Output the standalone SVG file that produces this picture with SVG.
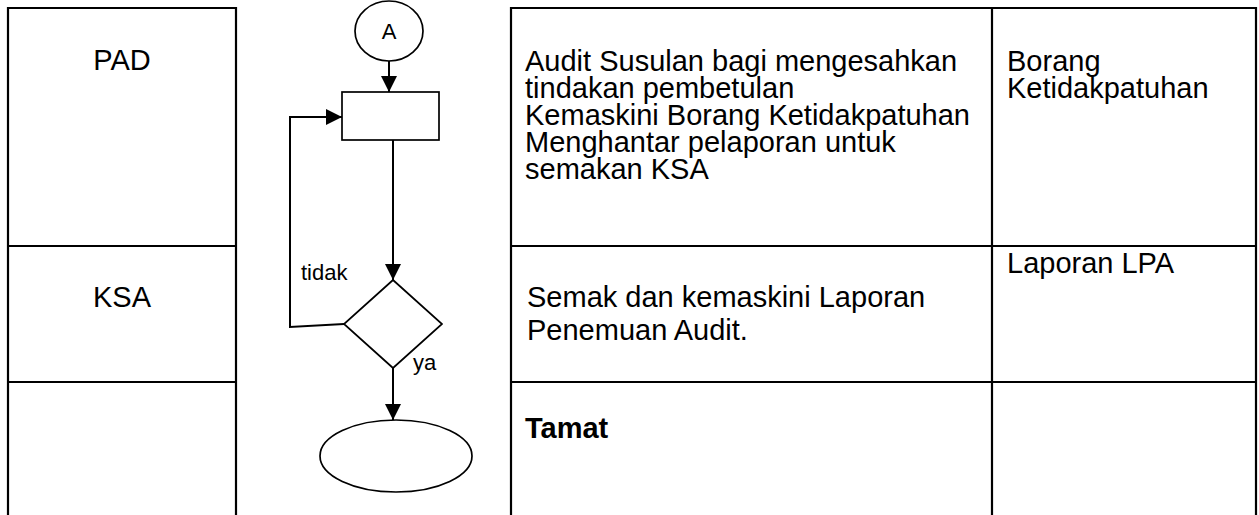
<svg xmlns="http://www.w3.org/2000/svg" width="1259" height="515" viewBox="0 0 1259 515">
<style>
.t{font-family:"Liberation Sans",Arial,sans-serif;font-size:29px;fill:#000}
.s{font-family:"Liberation Sans",Arial,sans-serif;font-size:22px;fill:#000}
.b{font-weight:bold}
.grid{stroke:#000;stroke-width:2.2;fill:none}
.shape{stroke:#000;stroke-width:1.7;fill:#fff}
.conn{stroke:#000;stroke-width:2;fill:none}
</style>
<defs>
<marker id="ah" viewBox="0 0 10 10" refX="10" refY="5" markerWidth="8" markerHeight="8" markerUnits="strokeWidth" orient="auto">
<path d="M0,0 L10,5 L0,10 z" fill="#000"/>
</marker>
</defs>
<rect width="1259" height="515" fill="#fff"/>
<g id="table-left">
<path class="grid" d="M8,515 V8 H236 V515 M8,246 H236 M8,382 H236"/>
<text class="t" x="122" y="70" text-anchor="middle">PAD</text>
<text class="t" x="122" y="307" text-anchor="middle">KSA</text>
</g>
<g id="table-right">
<path class="grid" d="M511,515 V8 H1256 V515 M992,8 V515 M511,246 H1256 M511,382 H1256"/>
<text class="t" x="525" y="71">Audit Susulan bagi mengesahkan</text>
<text class="t" x="525" y="98">tindakan pembetulan</text>
<text class="t" x="525" y="125">Kemaskini Borang Ketidakpatuhan</text>
<text class="t" x="525" y="152">Menghantar pelaporan untuk</text>
<text class="t" x="525" y="179">semakan KSA</text>
<text class="t" x="1007" y="71">Borang</text>
<text class="t" x="1007" y="98">Ketidakpatuhan</text>
<text class="t" x="1007" y="273">Laporan LPA</text>
<text class="t" x="527" y="307">Semak dan kemaskini Laporan</text>
<text class="t" x="527" y="340">Penemuan Audit.</text>
<text class="t b" x="525" y="438">Tamat</text>
</g>
<g id="connectors">
<line class="conn" x1="389" y1="61" x2="389" y2="92" marker-end="url(#ah)"/>
<line class="conn" x1="393" y1="140" x2="393" y2="280" marker-end="url(#ah)"/>
<polyline class="conn" points="344,324 290,327 290,117 342,117" marker-end="url(#ah)"/>
<line class="conn" x1="393" y1="368" x2="393" y2="420" marker-end="url(#ah)"/>
</g>
<g id="node-A">
<ellipse class="shape" cx="389" cy="31" rx="34" ry="30"/>
<text class="s" x="389" y="39" text-anchor="middle">A</text>
</g>
<g id="node-process">
<rect class="shape" x="342" y="92" width="97" height="48"/>
</g>
<g id="node-decision">
<polygon class="shape" points="393,280 442,324 393,368 344,324"/>
<text class="s" x="301" y="280">tidak</text>
<text class="s" x="413" y="370">ya</text>
</g>
<g id="node-end">
<ellipse class="shape" cx="396" cy="456" rx="76" ry="36"/>
</g>
</svg>
